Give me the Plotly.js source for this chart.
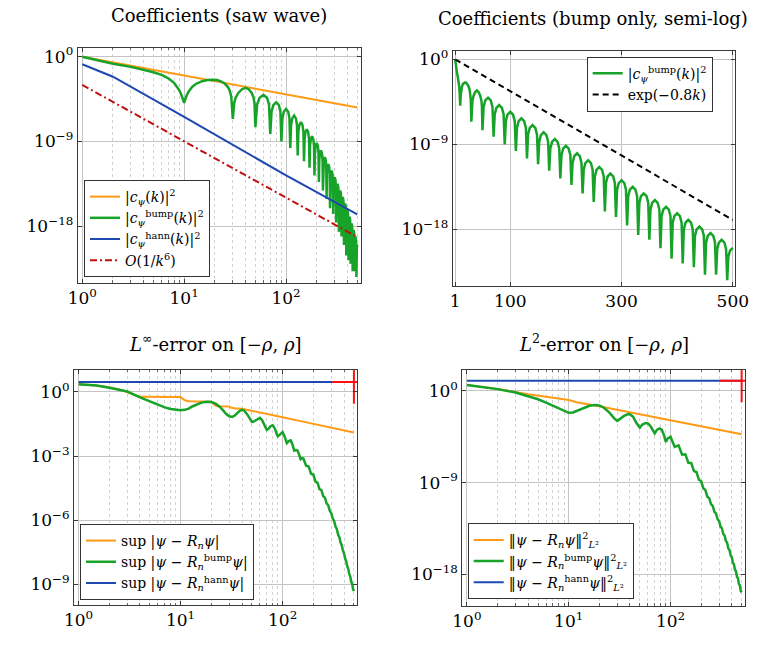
<!DOCTYPE html>
<html><head><meta charset="utf-8">
<script src="https://cdn.plot.ly/plotly-3.0.1.min.js"></script>
<style>body{margin:0;background:#fff}#chart{width:769px;height:645px}</style>
</head><body><div id="chart"></div>
<script>
// ---------- data ----------
// saw-wave coefficients |c_psi(k)|^2
const sawK = [1, 10, 100, 500];
const sawC = [1, 1e-2, 1e-4, 4e-6];
// hann-windowed coefficients
const hannK = [1, 2, 10, 100, 500];
const hannC = [0.155, 7.4e-3, 4e-7, 2.5e-13, 1.8e-17];
// O(1/k^6) reference
const refK = [1, 10, 500];
const refC = [1e-3, 1e-9, 7e-20];
// bump-windowed coefficients
const bumpK = [1,2,3,4,5,6,7,8,9,9.5,10,
 10.5,11,12,13,15,17,19,21,23,25,27,28,29,30,
 31,32,34,37,40,43,46,48,49,50,
 52,55,60,65,68,70,
 72,75,80,85,88,90,
 92,95,100,105,108,110,
 112,115,120,125,128,130,
 132,135,140,145,148,150,
 152,155,160,165,168,170,
 172,175,180,185,188,190,
 192,195,200,205,208,210,
 212,215,220,225,228,230,
 232,235,240,245,248,250,
 252,255,260,265,268,270,
 272,275,280,285,288,290,
 292,295,300,305,308,310,
 312,315,320,325,328,330,
 332,335,340,345,348,350,
 352,355,360,365,368,370,
 372,375,380,385,388,390,
 392,395,400,405,408,410,
 412,415,420,425,428,430,
 432,435,440,445,448,450,
 452,455,460,465,468,470,
 472,475,480,485,488,490,
 492,495,500];
const bumpC = [1,0.178,0.083,0.042,0.0224,0.0115,5e-3,1.6e-3,2.5e-4,6.3e-5,1.26e-5,
 6.3e-5,1.8e-4,6.3e-4,1.26e-3,2.5e-3,3.4e-3,3.6e-3,3.3e-3,2.4e-3,1.4e-3,5.6e-4,2.5e-4,5.6e-5,2.5e-7,
 1.26e-5,4.5e-5,1.4e-4,3.5e-4,5e-4,3.5e-4,1.4e-4,4.5e-5,1.1e-5,3.2e-8,
 8.7e-6,4.4e-5,8.7e-5,4.4e-5,8.7e-6,6.3e-9,
 1.45e-6,7.2e-6,1.45e-5,7.2e-6,1.45e-6,1e-9,
 2.8e-7,1.4e-6,2.8e-6,1.4e-6,2.8e-7,2e-10,
 5.6e-8,2.8e-7,5.6e-7,2.8e-7,5.6e-8,3.2e-11,
 1.1e-8,5.5e-8,1.1e-7,5.5e-8,1.1e-8,7.9e-12,
 1.9e-9,9.5e-9,1.9e-8,9.5e-9,1.9e-9,1.6e-12,
 3.6e-10,1.8e-9,3.6e-9,1.8e-9,3.6e-10,2.5e-13,
 7.1e-11,3.5e-10,7.1e-10,3.5e-10,7.1e-11,5e-14,
 1.1e-11,5.5e-11,1.1e-10,5.5e-11,1.1e-11,6.3e-15,
 2.1e-12,1.05e-11,2.1e-11,1.05e-11,2.1e-12,7.9e-16,
 4e-13,2e-12,4e-12,2e-12,4e-13,7.9e-17,
 8e-14,4e-13,8e-13,4e-13,8e-14,2e-17,
 1.6e-14,8e-14,1.6e-13,8e-14,1.6e-14,2.5e-18,
 3.2e-15,1.6e-14,3.2e-14,1.6e-14,3.2e-15,2.5e-19,
 6.3e-16,3.2e-15,6.3e-15,3.2e-15,6.3e-16,7.9e-20,
 1.26e-16,6.3e-16,1.26e-15,6.3e-16,1.26e-16,1e-20,
 2.5e-17,1.25e-16,2.5e-16,1.25e-16,2.5e-17,7.9e-22,
 5e-18,2.5e-17,5e-17,2.5e-17,5e-18,2.5e-22,
 1e-18,5e-18,1e-17,5e-18,1e-18,1e-22,
 2e-19,1e-18,2e-18,1e-18,2e-19,1.6e-23,
 4e-20,2e-19,4e-19,2e-19,4e-20,1.6e-23,
 8e-21,4e-20,8e-20,4e-20,8e-21,4e-24,
 1.3e-21,5.5e-21,1.1e-20];
// exp(-0.8k) guide line
const expK = [1, 500];
const expC = [1, 1e-17];

// L-infinity errors
const linfK = [1,1.5,2,3,4,5,6,7,8,9,10,11,12,13,14,16,18,20,22,24,26,28,30,32,34,36,38,40,42,45,48,50,52,55,58,60,63,66,70,73,76,80,84,88,90,94,98,100,105,110,115,120,125,130,135,140,145,150,155,160,170,180,190,200,210,220,230,240,250,260,270,280,290,300,310,320,330,340,350,360,370,380,390,400,410,420,430,440,450,460,470,480,490,500];
const linfBump = [2.29,2.0,1.58,1.05,0.56,0.355,0.25,0.19,0.158,0.141,0.138,0.145,0.166,0.209,0.25,0.316,0.347,0.339,0.282,0.209,0.141,0.093,0.072,0.068,0.079,0.105,0.132,0.145,0.135,0.089,0.05,0.04,0.041,0.05,0.06,0.062,0.048,0.028,0.0166,0.019,0.025,0.0275,0.019,0.01,8.3e-3,0.01,0.0132,0.0132,7.9e-3,4e-3,5e-3,5.4e-3,3.5e-3,1.78e-3,1.9e-3,1.82e-3,1.2e-3,7.1e-4,7.9e-4,7.6e-4,3.5e-4,3.2e-4,1.48e-4,1.35e-4,6.3e-5,5.5e-5,2.8e-5,2.5e-5,1.32e-5,1.12e-5,6e-6,5e-6,2.7e-6,2.1e-6,1.17e-6,9.1e-7,5e-7,3.8e-7,2.1e-7,1.58e-7,8.9e-8,6.6e-8,3.7e-8,2.75e-8,1.58e-8,1.17e-8,6.9e-9,5.2e-9,3e-9,2.3e-9,1.32e-9,1.05e-9,6e-10,4.7e-10];
const linfSawK = [1,1.5,2,2.5,3,3.5,4,10,10.5,11,12,13,20,21,22,23,30,31,33,35,40,45,50,70,100,150,200,300,400,500];
const linfSaw = [2.29,2.0,1.66,1.32,1.0,0.74,0.59,0.575,0.5,0.41,0.37,0.363,0.347,0.275,0.229,0.214,0.209,0.186,0.17,0.166,0.162,0.145,0.132,0.093,0.065,0.043,0.032,0.021,0.0158,0.0126];
const linfHannK = [1, 500];
const linfHann = [2.93, 2.93];

// L2 errors
const l2SawK = [1,1.5,2,3,4,6,8,10,12,15,20,50,100,200,500];
const l2Saw = [3.9,2.5,1.58,0.79,0.47,0.27,0.19,0.126,0.079,0.05,0.0316,5.2e-3,1.35e-3,3.5e-4,5.6e-5];
const l2BumpK = [1,1.5,2,3,4,5,6,7,8,9,10,11,12,14,16,18,20,22,25,28,30,32,35,38,40,43,46,50,53,57,60,64,70,74,78,82,86,90,94,98,100,
 110,120,130,140,150,160,170,180,190,200,210,220,230,240,250,260,270,280,290,300,310,320,330,340,350,360,370,380,390,400,410,420,430,440,450,460,470,480,490,500];
const l2Bump = [3.9,2.4,1.51,0.71,0.316,0.151,0.071,0.035,0.02,0.0112,7.1e-3,7.6e-3,0.0112,0.0224,0.035,0.042,0.038,0.024,7.9e-3,2e-3,1.12e-3,1.8e-3,3.5e-3,5e-3,5e-3,2.8e-3,7.9e-4,2.5e-4,5e-4,7.1e-4,6.6e-4,3.2e-4,6.9e-5,1.58e-4,2.1e-4,1.58e-4,5e-5,1e-5,2.2e-5,2.8e-5,3.2e-5,
 3.2e-6,4.5e-6,5.4e-7,5.9e-7,8.7e-8,8.3e-8,1.32e-8,1.07e-8,1.9e-9,1.41e-9,2.75e-10,1.86e-10,4.1e-11,2.95e-11,7.6e-12,5e-12,1.32e-12,8.9e-13,2.5e-13,1.7e-13,4.7e-14,3.2e-14,8.9e-15,6.3e-15,1.78e-15,1.2e-15,3.4e-16,2.4e-16,6.8e-17,4.8e-17,1.35e-17,9.5e-18,2.7e-18,1.95e-18,5.5e-19,4e-19,1.12e-19,7.9e-20,2.2e-20,1.6e-20];
const l2HannK = [1, 500];
const l2Hann = [10.3, 10.3];

// divergence marks (red plus at the end of the hann curves)
const markK = [500];
const linfMark = [2.93];
const l2Mark = [10.3];

// tick labels
const logXVals = [1, 10, 100];
const logXText = ['10<sup>0</sup>', '10<sup>1</sup>', '10<sup>2</sup>'];
const minorXVals = [2,3,4,5,6,7,8,9,20,30,40,50,60,70,80,90,200,300,400,500];
const coefYVals = [1, 1e-9, 1e-18];
const coefYText = ['10<sup>0</sup>', '10<sup>−9</sup>', '10<sup>−18</sup>'];
const linYVals = [1, 100, 300, 500];
const linYText = ['1', '100', '300', '500'];
const linfYVals = [1, 1e-3, 1e-6, 1e-9];
const linfYText = ['10<sup>0</sup>', '10<sup>−3</sup>', '10<sup>−6</sup>', '10<sup>−9</sup>'];
const l2YVals = [1, 1e-9, 1e-18];
const l2YText = ['10<sup>0</sup>', '10<sup>−9</sup>', '10<sup>−18</sup>'];

// ---------- styling ----------
const ORANGE = '#ff9a14', GREEN = '#17a329', BLUE = '#1f48b0', DRED = '#c01010', RED = '#ff1010';
const FONT = 'DejaVu Serif';

function frame(extra) {
  return Object.assign({
    showline: true, linecolor: '#3a3a3a', linewidth: 1, mirror: 'allticks',
    ticks: 'inside', ticklen: 4, tickcolor: '#3a3a3a', tickwidth: 1,
    showgrid: true, gridcolor: '#c4c4c4', gridwidth: 1, zeroline: false,
    tickfont: {family: FONT, size: 17, color: '#000'}, tickmode: 'array'
  }, extra);
}
function logX(domain, anchor) {
  return frame({type: 'log', domain: domain, anchor: anchor, range: [-0.045, 2.732],
    tickvals: logXVals, ticktext: logXText,
    minor: {tickmode: 'array', tickvals: minorXVals, ticks: 'inside', ticklen: 2.5, tickcolor: '#666',
            showgrid: true, gridcolor: '#d2d2d2', griddash: 'dot', gridwidth: 1}});
}
function logY(domain, anchor, range, vals, text) {
  return frame({type: 'log', domain: domain, anchor: anchor, range: range, tickvals: vals, ticktext: text});
}
function legendBox(x, y, yanchor) {
  return {x: x, y: y, xanchor: 'left', yanchor: yanchor || 'top', bgcolor: 'white', bordercolor: '#333', borderwidth: 1,
          font: {family: FONT, size: 14, color: '#000'}, itemwidth: 30, tracegroupgap: 0};
}

const traces = [
  // top-left
  {x: sawK, y: sawC, xaxis: 'x', yaxis: 'y', mode: 'lines', line: {color: ORANGE, width: 2}, legend: 'legend',
   name: '|<i>c</i><sub><i>ψ</i></sub>(<i>k</i>)|<sup>2</sup>'},
  {x: bumpK, y: bumpC, xaxis: 'x', yaxis: 'y', mode: 'lines', line: {color: GREEN, width: 2.5}, legend: 'legend',
   name: '|<i>c</i><sub><i>ψ</i></sub><sup>bump</sup>(<i>k</i>)|<sup>2</sup>'},
  {x: hannK, y: hannC, xaxis: 'x', yaxis: 'y', mode: 'lines', line: {color: BLUE, width: 2}, legend: 'legend',
   name: '|<i>c</i><sub><i>ψ</i></sub><sup>hann</sup>(<i>k</i>)|<sup>2</sup>'},
  {x: refK, y: refC, xaxis: 'x', yaxis: 'y', mode: 'lines', line: {color: DRED, width: 2, dash: '7px,3px,2px,3px'}, legend: 'legend',
   name: '<i>O</i>(1/<i>k</i><sup>6</sup>)'},
  // top-right
  {x: bumpK, y: bumpC, xaxis: 'x2', yaxis: 'y2', mode: 'lines', line: {color: GREEN, width: 2.5}, legend: 'legend2',
   name: '|<i>c</i><sub><i>ψ</i></sub><sup>bump</sup>(<i>k</i>)|<sup>2</sup>'},
  {x: expK, y: expC, xaxis: 'x2', yaxis: 'y2', mode: 'lines', line: {color: '#000', width: 2, dash: '6px,4px'}, legend: 'legend2',
   name: 'exp(−0.8<i>k</i>)'},
  // bottom-left
  {x: linfSawK, y: linfSaw, xaxis: 'x3', yaxis: 'y3', mode: 'lines', line: {color: ORANGE, width: 2}, legend: 'legend3',
   name: 'sup |<i>ψ</i> − <i>R</i><sub><i>n</i></sub><i>ψ</i>|'},
  {x: linfK, y: linfBump, xaxis: 'x3', yaxis: 'y3', mode: 'lines', line: {color: GREEN, width: 2.5}, legend: 'legend3',
   name: 'sup |<i>ψ</i> − <i>R</i><sub><i>n</i></sub><sup>bump</sup><i>ψ</i>|'},
  {x: linfHannK, y: linfHann, xaxis: 'x3', yaxis: 'y3', mode: 'lines', line: {color: BLUE, width: 2}, legend: 'legend3',
   name: 'sup |<i>ψ</i> − <i>R</i><sub><i>n</i></sub><sup>hann</sup><i>ψ</i>|'},
  {x: markK, y: linfMark, xaxis: 'x3', yaxis: 'y3', mode: 'markers', showlegend: false, cliponaxis: true,
   marker: {symbol: 'cross-thin', size: 31, line: {color: RED, width: 2}}},
  // bottom-right
  {x: l2SawK, y: l2Saw, xaxis: 'x4', yaxis: 'y4', mode: 'lines', line: {color: ORANGE, width: 2}, legend: 'legend4',
   name: '‖<i>ψ</i> − <i>R</i><sub><i>n</i></sub><i>ψ</i>‖<sup>2</sup><sub><i>L</i>²</sub>'},
  {x: l2BumpK, y: l2Bump, xaxis: 'x4', yaxis: 'y4', mode: 'lines', line: {color: GREEN, width: 2.5}, legend: 'legend4',
   name: '‖<i>ψ</i> − <i>R</i><sub><i>n</i></sub><sup>bump</sup><i>ψ</i>‖<sup>2</sup><sub><i>L</i>²</sub>'},
  {x: l2HannK, y: l2Hann, xaxis: 'x4', yaxis: 'y4', mode: 'lines', line: {color: BLUE, width: 2}, legend: 'legend4',
   name: '‖<i>ψ</i> − <i>R</i><sub><i>n</i></sub><sup>hann</sup><i>ψ</i>‖<sup>2</sup><sub><i>L</i>²</sub>'},
  {x: markK, y: l2Mark, xaxis: 'x4', yaxis: 'y4', mode: 'markers', showlegend: false, cliponaxis: true,
   marker: {symbol: 'cross-thin', size: 31, line: {color: RED, width: 2}}}
];

const titleFont = {family: FONT, size: 18, color: '#000'};
const layout = {
  width: 769, height: 645, margin: {l: 0, r: 0, t: 0, b: 0},
  paper_bgcolor: '#fff', plot_bgcolor: '#fff', showlegend: true,
  font: {family: FONT, size: 14, color: '#000'},
  xaxis: logX([0.101, 0.469], 'y'),
  yaxis: logY([0.5617, 0.926], 'x', [-24.0, 0.95], coefYVals, coefYText),
  xaxis2: frame({type: 'linear', domain: [0.5887, 0.9558], anchor: 'y2', range: [-3.5, 504],
                 tickvals: linYVals, ticktext: linYText}),
  yaxis2: logY([0.5566, 0.9209], 'x2', [-24.0, 0.88], coefYVals, coefYText),
  xaxis3: logX([0.0962, 0.4646], 'y3'),
  yaxis3: logY([0.062, 0.4264], 'x3', [-9.98, 1.03], linfYVals, linfYText),
  xaxis4: logX([0.6012, 0.9688], 'y4'),
  yaxis4: logY([0.0609, 0.4264], 'x4', [-21.1, 2.06], l2YVals, l2YText),
  legend: legendBox(0.1092, 0.7209),
  legend2: legendBox(0.7629, 0.9121),
  legend3: legendBox(0.104, 0.0698, 'bottom'),
  legend4: legendBox(0.6082, 0.1887),
  annotations: [
    {text: 'Coefficients (saw wave)', xref: 'paper', yref: 'paper', x: 0.2848, y: 0.9767, xanchor: 'center', yanchor: 'middle', showarrow: false, font: titleFont},
    {text: 'Coefficients (bump only, semi-log)', xref: 'paper', yref: 'paper', x: 0.7711, y: 0.972, xanchor: 'center', yanchor: 'middle', showarrow: false, font: titleFont},
    {text: '<i>L</i><sup>∞</sup>-error on [−<i>ρ</i>, <i>ρ</i>]', xref: 'paper', yref: 'paper', x: 0.2805, y: 0.4682, xanchor: 'center', yanchor: 'middle', showarrow: false, font: titleFont},
    {text: '<i>L</i><sup>2</sup>-error on [−<i>ρ</i>, <i>ρ</i>]', xref: 'paper', yref: 'paper', x: 0.785, y: 0.4682, xanchor: 'center', yanchor: 'middle', showarrow: false, font: titleFont}
  ]
};

Plotly.newPlot('chart', traces, layout, {staticPlot: true, displayModeBar: false});
</script>
</body></html>
